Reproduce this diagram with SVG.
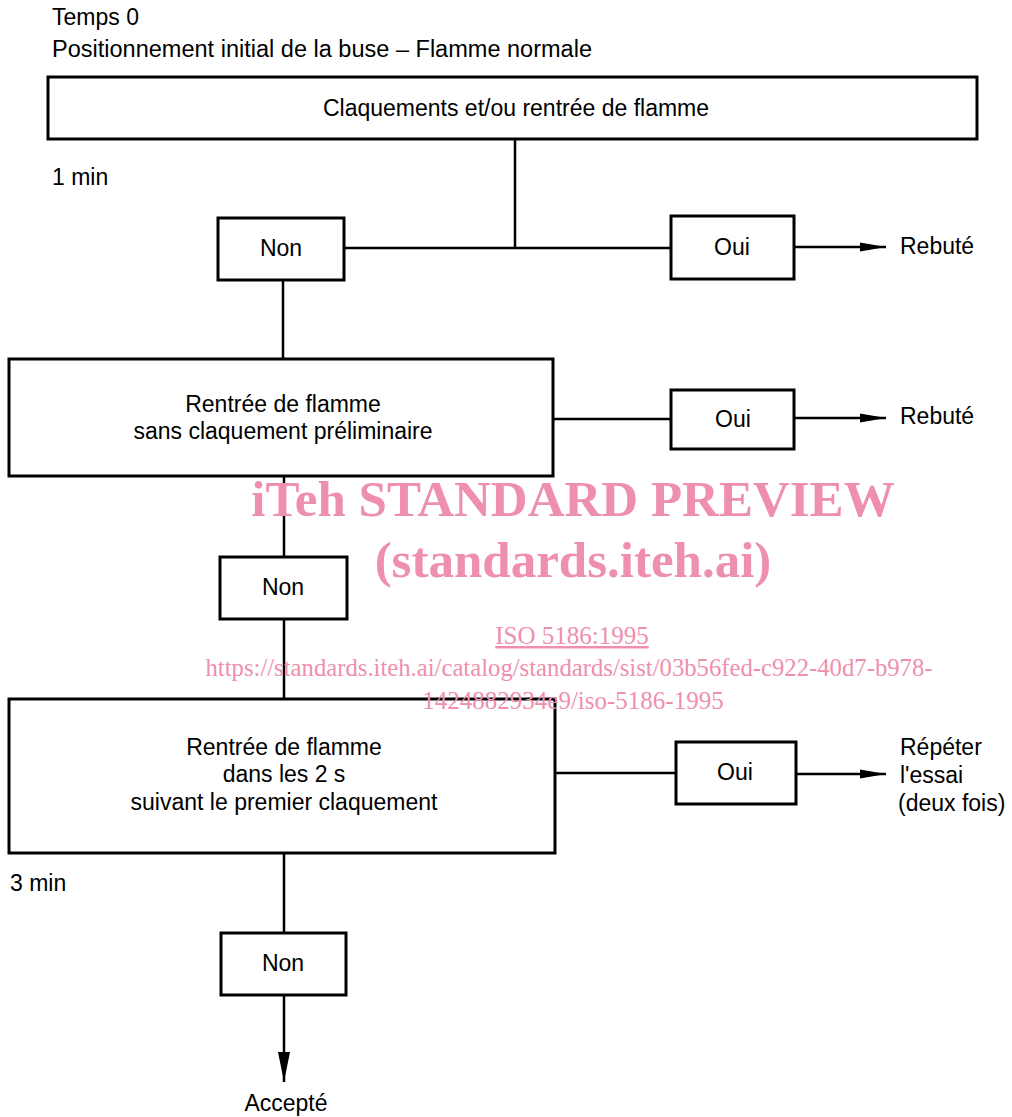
<svg xmlns="http://www.w3.org/2000/svg" width="1012" height="1117" viewBox="0 0 1012 1117">
<style>
.t{font-family:"Liberation Sans",Arial,sans-serif;font-size:23px;fill:#000}
.c{text-anchor:middle}
.box{fill:none;stroke:#000;stroke-width:3}
.ln{fill:none;stroke:#000;stroke-width:2.5}
.wm{font-family:"Liberation Serif","Times New Roman",serif;fill:#ee8fae;text-anchor:middle}
</style>
<defs>
<marker id="ar" markerWidth="26" markerHeight="12" refX="26" refY="6" orient="auto" markerUnits="userSpaceOnUse">
<path d="M0,1.5 L26,6 L0,10.5 Z" fill="#000"/>
</marker>
<marker id="ad" markerWidth="30" markerHeight="12" refX="30" refY="6" orient="auto" markerUnits="userSpaceOnUse">
<path d="M0,0 L30,6 L0,12 Z" fill="#000"/>
</marker>
</defs>
<rect width="1012" height="1117" fill="#fff"/>
<text class="t" x="52" y="25">Temps 0</text>
<text class="t" x="52" y="57" textLength="540" lengthAdjust="spacingAndGlyphs">Positionnement initial de la buse – Flamme normale</text>
<text class="t" x="52" y="185">1 min</text>
<text class="t" x="10" y="891">3 min</text>
<g id="connectors">
<line class="ln" x1="515" y1="139" x2="515" y2="248"/>
<line class="ln" x1="344" y1="248" x2="671" y2="248"/>
<line class="ln" x1="794" y1="247" x2="886" y2="247" marker-end="url(#ar)"/>
<line class="ln" x1="283" y1="280" x2="283" y2="359"/>
<line class="ln" x1="553" y1="419" x2="671" y2="419"/>
<line class="ln" x1="794" y1="418" x2="886" y2="418" marker-end="url(#ar)"/>
<line class="ln" x1="284" y1="476" x2="284" y2="557"/>
<line class="ln" x1="284" y1="619" x2="284" y2="699"/>
<line class="ln" x1="555" y1="773" x2="676" y2="773"/>
<line class="ln" x1="796" y1="774" x2="886" y2="774" marker-end="url(#ar)"/>
<line class="ln" x1="284" y1="853" x2="284" y2="933"/>
<line class="ln" x1="284" y1="995" x2="284" y2="1082" marker-end="url(#ad)"/>
</g>
<g id="n-claquements">
<rect class="box" x="48" y="77" width="929" height="62"/>
<text class="t c" x="516" y="116">Claquements et/ou rentrée de flamme</text>
</g>
<g id="n-non1">
<rect class="box" x="218" y="218" width="126" height="62"/>
<text class="t c" x="281" y="256">Non</text>
</g>
<g id="n-oui1">
<rect class="box" x="671" y="216" width="123" height="63"/>
<text class="t c" x="732" y="255">Oui</text>
</g>
<text class="t" x="900" y="254">Rebuté</text>
<g id="n-rentree1">
<rect class="box" x="9" y="359" width="544" height="117"/>
<text class="t c" x="283" y="412">Rentrée de flamme</text>
<text class="t c" x="283" y="439">sans claquement préliminaire</text>
</g>
<g id="n-oui2">
<rect class="box" x="671" y="390" width="123" height="59"/>
<text class="t c" x="733" y="427">Oui</text>
</g>
<text class="t" x="900" y="424">Rebuté</text>
<g id="n-non2">
<rect class="box" x="220" y="557" width="127" height="62"/>
<text class="t c" x="283" y="595">Non</text>
</g>
<g id="n-rentree2">
<rect class="box" x="9" y="699" width="546" height="154"/>
<text class="t c" x="284" y="755">Rentrée de flamme</text>
<text class="t c" x="284" y="782">dans les 2 s</text>
<text class="t c" x="284" y="810">suivant le premier claquement</text>
</g>
<g id="n-oui3">
<rect class="box" x="676" y="742" width="120" height="62"/>
<text class="t c" x="735" y="780">Oui</text>
</g>
<text class="t" x="900" y="755">Répéter</text>
<text class="t" x="900" y="783">l'essai</text>
<text class="t" x="898" y="811">(deux fois)</text>
<g id="n-non3">
<rect class="box" x="221" y="933" width="125" height="62"/>
<text class="t c" x="283" y="971">Non</text>
</g>
<text class="t c" x="286" y="1111">Accepté</text>
<g id="watermark">
<text class="wm" x="573" y="516" font-size="51" font-weight="bold">iTeh STANDARD PREVIEW</text>
<text class="wm" x="573" y="577" font-size="51" font-weight="bold">(standards.iteh.ai)</text>
<text class="wm" x="572" y="644" font-size="25" text-decoration="underline">ISO 5186:1995</text>
<text class="wm" x="569" y="676" font-size="25" textLength="727" lengthAdjust="spacingAndGlyphs">https://standards.iteh.ai/catalog/standards/sist/03b56fed-c922-40d7-b978-</text>
<text class="wm" x="573" y="709" font-size="25">1424882934e9/iso-5186-1995</text>
</g>
</svg>
